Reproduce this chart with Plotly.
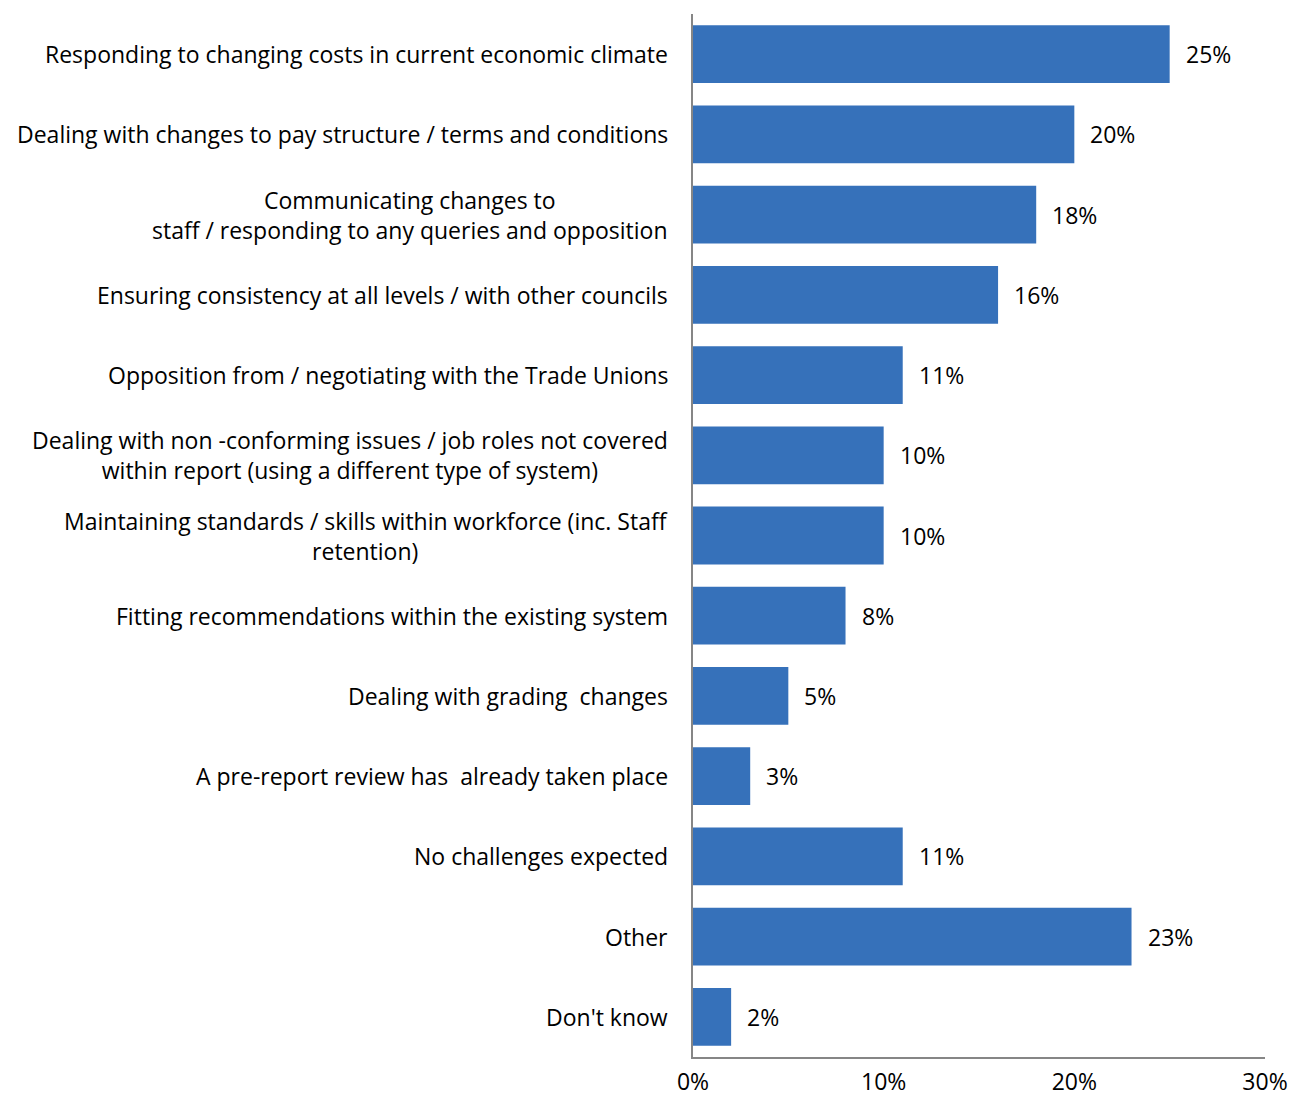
import plotly.graph_objects as go

# Survey responses: anticipated challenges
categories = [
    "Responding to changing costs in current economic climate",
    "Dealing with changes to pay structure / terms and conditions",
    "Communicating changes to<br>staff / responding to any queries and opposition",
    "Ensuring consistency at all levels / with other councils",
    "Opposition from / negotiating with the Trade Unions",
    "Dealing with non -conforming issues / job roles not covered<br>within report (using a different type of system)",
    "Maintaining standards / skills within workforce (inc. Staff<br>retention)",
    "Fitting recommendations within the existing system",
    "Dealing with grading  changes",
    "A pre-report review has  already taken place",
    "No challenges expected",
    "Other",
    "Don't know",
]
values_pct = [25, 20, 18, 16, 11, 10, 10, 8, 5, 3, 11, 23, 2]
x_ticks = [0, 0.1, 0.2, 0.3]
x_tick_labels = ["0%", "10%", "20%", "30%"]

shares = [v / 100 for v in values_pct]
ids = list(range(len(categories)))

FONT = "'Open Sans', Lato, sans-serif"
FSIZE = 23
AXIS_GREY = "#868686"

fig = go.Figure()
fig.add_trace(go.Bar(
    x=shares,
    y=ids,
    orientation="h",
    width=0.72,
    marker=dict(color="#3671BA", line=dict(width=0)),
    hoverinfo="skip",
))

annotations = []
# category labels, centred line-by-line and right-aligned to the axis
for i, label in zip(ids, categories):
    annotations.append(dict(
        x=0, y=i, xref="paper", yref="y",
        text=label, showarrow=False,
        xanchor="right", yanchor="middle", align="center",
        xshift=-23,
        font=dict(family=FONT, size=FSIZE, color="#000000"),
    ))
# value labels to the right of each bar
for i, s, v in zip(ids, shares, values_pct):
    annotations.append(dict(
        x=s, y=i, xref="x", yref="y",
        text=f"{v}%", showarrow=False,
        xanchor="left", yanchor="middle",
        xshift=14,
        font=dict(family=FONT, size=FSIZE, color="#000000"),
    ))

fig.update_layout(
    width=1292, height=1100,
    margin=dict(l=693, r=27, t=14, b=43, autoexpand=False),
    paper_bgcolor="white", plot_bgcolor="white",
    showlegend=False,
    bargap=0.28,
    annotations=annotations,
    font=dict(family=FONT, size=FSIZE, color="#000000"),
)
fig.update_xaxes(
    range=[0, 0.3],
    tickvals=x_ticks, ticktext=x_tick_labels,
    showgrid=False, zeroline=False,
    showline=True, linecolor=AXIS_GREY, linewidth=1.5,
    ticks="", ticklabelstandoff=4,
    automargin=False,
    tickfont=dict(family=FONT, size=FSIZE, color="#000000"),
    fixedrange=True,
)
fig.update_yaxes(
    range=[len(categories) - 0.5, -0.5],
    showticklabels=False,
    showgrid=False, zeroline=False,
    showline=True, linecolor=AXIS_GREY, linewidth=1.5,
    ticks="", automargin=False,
    fixedrange=True,
)

fig.write_html("out.html", config={"displayModeBar": False})
